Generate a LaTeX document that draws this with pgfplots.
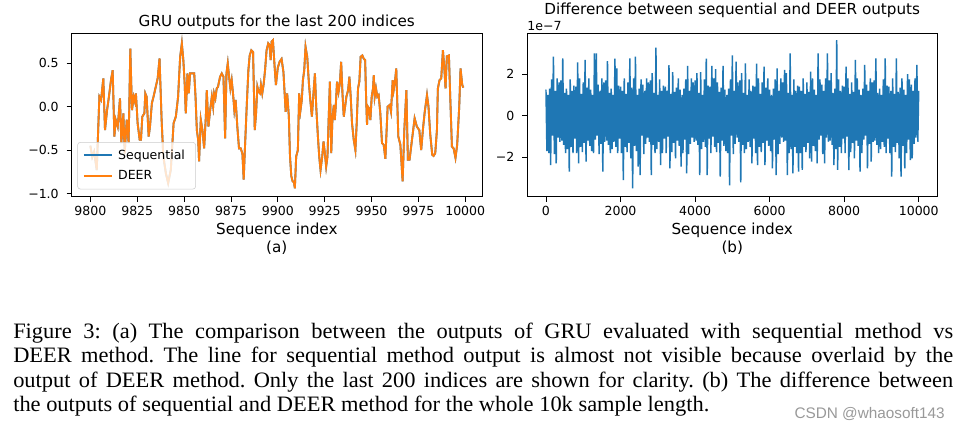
\documentclass[border=0pt]{standalone}
\usepackage{pgfplots}
\pgfplotsset{compat=1.18}
\usepackage{pgfplotstable}
\usepackage{fontspec}
\setmainfont{DejaVu Sans}
\newfontfamily\capfont[FakeStretch=1.02]{Liberation Serif}
\newfontfamily\wmfont{Liberation Sans}
\definecolor{mplblue}{HTML}{1F77B4}
\definecolor{mplorange}{HTML}{FF7F0E}

\pgfplotstableread{
x y
9800 -0.45
9801 -0.58
9802 -0.52
9803.4 -0.73
9804.8 0.115
9805.7 0.077
9806.9 0.326
9807.8 -0.27
9808.9 -0.04
9809.9 0.115
9811.0 0.307
9811.9 0.42
9812.8 -0.345
9813.5 -0.15
9814.6 -0.23
9815.8 0.096
9816.5 -0.42
9817.6 -0.077
9818.3 -0.54
9819.4 -0.15
9820.4 -0.42
9821.3 0.67
9822.2 -0.04
9823.1 0.115
9823.8 0.057
9824.3 0.153
9825.2 -0.19
9826.3 -0.38
9827.0 -0.38
9827.7 -0.115
9828.8 -0.077
9829.3 0.153
9830.0 0.115
9831.1 -0.345
9831.8 -0.23
9832.8 0.038
9833.7 0.115
9834.9 0.23
9835.9 0.326
9836.9 0.555
9838.0 -0.15
9838.9 -0.57
9840.3 -0.77
9841.5 -0.88
9842.9 -0.73
9844.4 -0.19
9845.6 -0.115
9846.8 0.115
9847.9 0.575
9848.8 0.73
9849.6 0.536
9850.3 0.268
9850.9 -0.077
9851.8 0.383
9852.5 0.153
9853.2 0.383
9854.5 0.383
9855.4 0.383
9856.1 0.115
9856.8 -0.27
9857.5 -0.38
9858.0 -0.63
9858.9 -0.15
9859.8 -0.27
9860.7 -0.48
9861.6 -0.115
9862.1 0.19
9863.0 -0.23
9863.9 -0.04
9864.8 0.115
9865.5 0.0
9866.0 0.153
9866.7 0.096
9867.4 0.21
9868.1 0.23
9869.2 0.345
9870.1 0.383
9871.0 0.345
9871.9 -0.364
9872.6 0.383
9873.3 0.5
9874.0 0.345
9874.7 0.21
9875.4 0.306
9876.1 0.153
9876.8 -0.04
9877.5 0.077
9878.4 -0.23
9879.3 -0.48
9880.2 -0.48
9881.1 -0.54
9881.8 -0.84
9882.5 -0.46
9883.4 0.0
9884.3 0.42
9885.0 0.59
9885.9 0.65
9886.8 0.63
9887.7 -0.27
9888.4 -0.077
9889.1 0.23
9889.8 0.17
9890.5 0.153
9891.0 0.25
9891.7 0.153
9892.4 0.25
9893.2 0.42
9894.0 0.65
9894.9 0.73
9895.6 0.71
9896.2 0.536
9896.7 0.75
9897.4 0.766
9898.3 0.46
9899.0 0.25
9900.0 0.45
9901.0 0.52
9902.0 0.55
9903.0 0.40
9904.2 -0.06
9905.0 0.153
9905.9 -0.115
9906.5 -0.57
9907.2 -0.80
9907.9 -0.86
9908.6 -0.87
9909.1 -0.94
9909.8 -0.575
9910.7 -0.5
9911.4 0.153
9912.1 -0.04
9912.8 0.077
9913.4 0.306
9914.1 0.42
9914.8 0.69
9915.7 0.575
9916.6 0.268
9917.5 0.038
9918.2 -0.115
9918.9 0.115
9919.8 0.383
9920.5 0.0
9921.4 -0.345
9922.1 -0.575
9922.8 -0.73
9923.7 -0.575
9924.4 -0.40
9925.1 -0.536
9925.8 -0.69
9926.5 -0.575
9927.2 -0.096
9927.8 0.287
9928.5 -0.536
9929.2 -0.115
9929.9 0.02
9930.4 -0.153
9930.9 0.0
9931.6 0.287
9932.4 0.17
9933.1 0.268
9933.8 0.517
9934.5 0.153
9935.2 -0.115
9935.9 0.0
9936.6 0.115
9937.5 0.19
9938.2 0.345
9938.9 0.115
9939.6 -0.19
9940.5 -0.38
9941.4 -0.5
9942.1 -0.19
9942.8 0.21
9943.5 0.287
9944.2 0.575
9945.1 0.59
9945.8 0.555
9946.6 0.536
9947.1 0.115
9947.6 -0.21
9948.1 0.0
9948.7 -0.02
9949.4 -0.153
9950.1 0.115
9950.8 0.21
9951.2 0.364
9951.7 0.115
9952.4 0.21
9953.1 0.115
9953.8 0.134
9954.7 -0.077
9955.6 -0.42
9956.5 -0.44
9957.4 -0.6
9958.6 0.0
9959.7 0.02
9960.4 -0.057
9961.3 0.306
9961.8 0.19
9962.5 0.287
9963.2 0.44
9964.3 -0.345
9965.4 -0.44
9966.6 -0.86
9967.5 -0.27
9968.6 0.19
9969.4 -0.61
9970.3 -0.61
9971.6 -0.38
9973.0 -0.134
9974.2 -0.23
9975.5 -0.27
9976.5 -0.5
9977.4 -0.27
9978.3 -0.077
9979.6 0.134
9980.4 0.0
9981.3 -0.31
9982.4 -0.555
9983.1 -0.567
9984.0 -0.536
9984.9 -0.27
9985.4 0.21
9986.3 0.306
9987.2 0.326
9988.1 0.65
9988.8 0.46
9989.5 0.21
9990.2 0.58
9991.3 0.59
9992.0 0.115
9992.9 -0.46
9993.8 -0.48
9994.8 -0.59
9995.7 -0.44
9996.8 0.0
9997.5 0.44
9998.4 0.25
9999.0 0.22
}\gruA

\pgfplotstableread{
x y
0 1.25
25 -1.7
50 1.0
75 -1.8
100 1.3
125 -2.37
150 1.75
175 -0.95
200 2.84
225 -1.85
250 1.2
275 -2.29
300 1.8
325 -1.05
350 1.6
375 -1.25
400 1.7
425 -1.2
450 2.76
475 -1.4
500 1.1
525 -1.8
550 1.3
575 -1.6
600 1.0
625 -2.69
650 1.75
675 -1.5
700 1.2
725 -1.8
750 1.45
775 -1.1
800 1.4
825 -1.8
850 2.56
875 -2.29
900 1.8
925 -1.5
950 1.05
975 -1.75
1000 1.6
1025 -1.3
1050 2.68
1075 -2.21
1100 1.35
1125 -1.2
1150 1.8
1175 -1.45
1200 1.25
1225 -1.7
1250 1.0
1275 -1.8
1300 3.0
1325 -1.15
1350 3.0
1375 -0.95
1400 1.5
1425 -1.85
1450 1.2
1475 -1.35
1500 1.8
1525 -2.69
1550 1.6
1575 -1.25
1600 1.7
1625 -1.2
1650 2.62
1675 -1.4
1700 1.1
1725 -1.8
1750 1.3
1775 -1.6
1800 1.0
1825 -1.25
1850 2.75
1875 -1.5
1900 2.28
1925 -1.8
1950 1.45
1975 -1.1
2000 1.4
2025 -1.8
2050 1.2
2075 -3.09
2100 1.8
2125 -1.5
2150 1.05
2175 -1.75
2200 1.6
2225 -1.3
2250 2.76
2275 -2.05
2300 1.35
2325 -3.49
2350 1.8
2375 -1.45
2400 2.84
2425 -1.7
2450 1.0
2475 -2.45
2500 1.3
2525 -2.85
2550 1.75
2575 -0.95
2600 1.5
2625 -1.85
2650 1.2
2675 -1.35
2700 1.8
2725 -1.05
2750 1.6
2775 -1.25
2800 1.7
2825 -2.85
2850 2.05
2875 -1.4
2900 1.1
2925 -1.8
2950 3.27
2975 -1.6
3000 1.0
3025 -1.25
3050 1.75
3075 -2.37
3100 1.2
3125 -1.8
3150 1.45
3175 -1.1
3200 1.4
3225 -1.8
3250 1.2
3275 -1.0
3300 2.43
3325 -2.53
3350 1.05
3375 -1.75
3400 2.1
3425 -1.3
3450 1.15
3475 -2.05
3500 1.35
3525 -1.2
3550 1.8
3575 -1.45
3600 1.25
3625 -2.45
3650 1.0
3675 -1.8
3700 1.3
3725 -1.15
3750 1.75
3775 -2.77
3800 2.4
3825 -1.85
3850 1.2
3875 -1.35
3900 1.8
3925 -1.05
3950 1.6
3975 -1.25
4000 1.7
4025 -1.2
4050 2.05
4075 -1.4
4100 1.1
4125 -2.85
4150 2.1
4175 -1.6
4200 1.0
4225 -1.25
4250 1.75
4275 -1.5
4300 2.75
4325 -2.85
4350 1.45
4375 -1.1
4400 1.4
4425 -1.8
4450 2.4
4475 -1.0
4500 1.8
4525 -1.5
4550 2.24
4575 -1.75
4600 1.6
4625 -1.3
4650 1.15
4675 -2.93
4700 1.35
4725 -1.2
4750 2.4
4775 -1.45
4800 1.25
4825 -1.7
4850 1.0
4875 -1.8
4900 1.3
4925 -3.35
4950 1.75
4975 -0.95
5000 2.9
5025 -1.85
5050 1.2
5075 -1.35
5100 2.6
5125 -1.05
5150 1.6
5175 -1.25
5200 1.7
5225 -3.2
5250 2.05
5275 -1.4
5300 1.1
5325 -1.8
5350 2.52
5375 -1.6
5400 1.0
5425 -1.25
5450 1.75
5475 -1.5
5500 1.2
5525 -2.29
5550 1.45
5575 -1.1
5600 1.4
5625 -1.8
5650 2.5
5675 -2.37
5700 1.8
5725 -1.5
5750 1.05
5775 -1.75
5800 1.6
5825 -1.3
5850 2.36
5875 -2.37
5900 1.35
5925 -1.2
5950 1.8
5975 -1.45
6000 1.25
6025 -1.7
6050 1.0
6075 -2.53
6100 1.3
6125 -1.15
6150 1.75
6175 -2.85
6200 2.28
6225 -1.85
6250 1.2
6275 -1.35
6300 1.8
6325 -1.05
6350 1.6
6375 -1.25
6400 2.2
6425 -1.2
6450 2.05
6475 -2.85
6500 1.1
6525 -1.8
6550 3.0
6575 -1.6
6600 1.0
6625 -2.77
6650 1.75
6675 -1.5
6700 1.2
6725 -1.8
6750 1.45
6775 -2.69
6800 1.4
6825 -1.8
6850 1.2
6875 -2.6
6900 1.8
6925 -1.5
6950 1.05
6975 -1.75
7000 1.6
7025 -1.3
7050 1.15
7075 -2.05
7100 2.12
7125 -2.21
7150 1.8
7175 -1.45
7200 1.25
7225 -1.7
7250 1.0
7275 -2.29
7300 3.0
7325 -1.15
7350 1.75
7375 -0.95
7400 1.5
7425 -1.85
7450 1.2
7475 -2.29
7500 1.8
7525 -1.05
7550 3.0
7575 -1.25
7600 1.7
7625 -1.2
7650 2.05
7675 -1.4
7700 1.1
7725 -2.37
7750 1.3
7775 -1.6
7800 3.63
7825 -2.6
7850 1.75
7875 -1.5
7900 1.2
7925 -1.8
7950 1.45
7975 -1.1
8000 1.4
8025 -1.8
8050 2.36
8075 -1.0
8100 1.8
8125 -2.61
8150 1.05
8175 -1.75
8200 1.6
8225 -1.3
8250 1.15
8275 -2.05
8300 2.68
8325 -1.2
8350 1.8
8375 -1.45
8400 1.25
8425 -2.69
8450 1.0
8475 -1.8
8500 1.3
8525 -1.15
8550 2.44
8575 -0.95
8600 1.5
8625 -2.53
8650 1.2
8675 -1.35
8700 1.8
8725 -2.21
8750 1.6
8775 -1.25
8800 1.7
8825 -1.2
8850 2.76
8875 -1.4
8900 1.1
8925 -1.8
8950 1.3
8975 -1.6
9000 1.0
9025 -1.25
9050 1.75
9075 -1.5
9100 2.76
9125 -1.8
9150 1.45
9175 -1.1
9200 1.4
9225 -1.8
9250 1.2
9275 -2.93
9300 1.8
9325 -1.5
9350 1.05
9375 -1.75
9400 2.76
9425 -1.3
9450 1.15
9475 -2.05
9500 1.35
9525 -2.93
9550 1.8
9575 -1.45
9600 1.25
9625 -2.53
9650 1.0
9675 -1.8
9700 2.0
9725 -1.15
9750 1.75
9775 -2.13
9800 1.5
9825 -2.05
9850 1.2
9875 -1.35
9900 1.8
9925 -1.05
9950 2.44
9975 -1.25
9999 1.2
}\diffB

\pgfplotsset{
  mplax/.style={
    scale only axis,
    anchor=south west,
    axis line style={line width=0.75pt, black},
    tick align=outside,
    major tick length=3.75pt,
    tick style={line width=0.6pt, black},
    xtick pos=left, ytick pos=left,
    scaled x ticks=false, scaled y ticks=false,
    ticklabel style={font=\fontsize{9.4}{11}\selectfont},
    yticklabel style={xshift=-2.5pt},
    clip=true,
  }
}

\begin{document}
\begin{tikzpicture}[x=1pt,y=1pt]
\path[use as bounding box, fill=white] (0,0) rectangle (720,322.5);

\begin{axis}[mplax,
  at={(53.8pt,175pt)}, width=307.7pt, height=122.5pt,
  xmin=9790.05, xmax=10008.95, ymin=-1.037, ymax=0.845,
  xtick={9800,9825,9850,9875,9900,9925,9950,9975,10000},
  xticklabels={9800,9825,9850,9875,9900,9925,9950,9975,10000},
  ytick={-1,-0.5,0,0.5},
  yticklabels={−1.0,−0.5,0.0,0.5},
  legend style={at={(0.0137,0.045)}, anchor=south west,
    draw=black!20, rounded corners=2pt, fill=white, fill opacity=0.8, text opacity=1,
    draw opacity=1,
    font=\fontsize{9.4}{11}\selectfont, inner xsep=4pt, inner ysep=3.5pt, row sep=3pt,
    nodes={inner xsep=4pt}},
  legend cell align=left,
  legend image code/.code={\draw[#1, line width=1.4pt, opacity=1] (0pt,0.4pt) -- (21pt,0.4pt);},
]
\addplot[mplblue, line width=1.4pt] table[x=x,y=y] {\gruA};
\addlegendentry{Sequential}
\addplot[mplorange, line width=1.4pt] table[x=x,y=y] {\gruA};
\addlegendentry{DEER}
\end{axis}

\begin{axis}[mplax,
  at={(395.5pt,175pt)}, width=307.5pt, height=122.5pt,
  xmin=-500, xmax=10499, ymin=-3.89, ymax=3.96,
  xtick={0,2000,4000,6000,8000,10000},
  xticklabels={0,2000,4000,6000,8000,10000},
  ytick={-2,0,2},
  yticklabels={−2,0,2},
]
\addplot[mplblue, line width=1.1pt] table[x=x,y=y] {\diffB};
\end{axis}

% titles and labels
\node[anchor=base, font=\fontsize{11.4}{13}\selectfont] at (207.6,302.5) {GRU outputs for the last 200 indices};
\node[anchor=base, font=\fontsize{11.4}{13}\selectfont] at (549.2,311.6) {Difference between sequential and DEER outputs};
\node[anchor=base west, inner sep=0, font=\fontsize{9.4}{11}\selectfont] at (395.3,299.6) {1e−7};
\node[anchor=base, font=\fontsize{11.4}{13}\selectfont] at (207.6,147) {Sequence index};
\node[anchor=base, font=\fontsize{11.4}{13}\selectfont] at (549.2,147) {Sequence index};
\node[anchor=base, font=\fontsize{11.4}{13}\selectfont] at (207.6,133.3) {(a)};
\node[anchor=base, font=\fontsize{11.4}{13}\selectfont] at (549.2,133.3) {(b)};

% caption
\node[anchor=base west, inner sep=0] at (9.75,68.6) {\parbox[t]{705pt}{\capfont\fontsize{16.5}{18.2}\selectfont\frenchspacing
Figure 3: (a) The comparison between the outputs of GRU evaluated with sequential method vs\linebreak
DEER method. The line for sequential method output is almost not visible because overlaid by the\linebreak
output of DEER method. Only the last 200 indices are shown for clarity. (b) The difference between\linebreak
the outputs of sequential and DEER method for the whole 10k sample length.}};

% watermark
\node[anchor=base east, inner sep=0, text=black!40, font=\wmfont\fontsize{11.5}{13}\selectfont] at (708.75,9) {CSDN @whaosoft143};
\end{tikzpicture}
\end{document}
